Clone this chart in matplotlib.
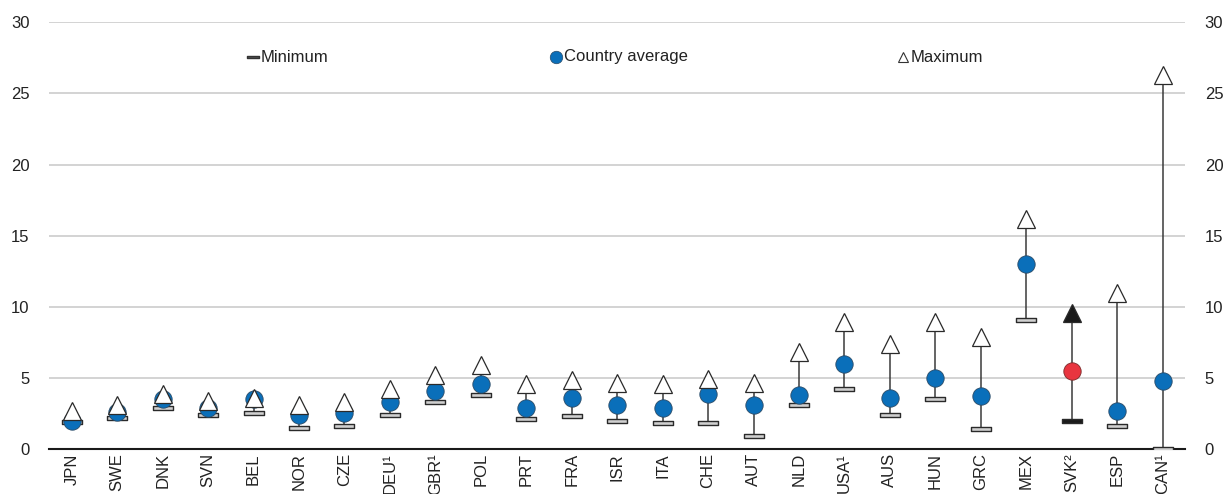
import matplotlib
matplotlib.use("Agg")
import matplotlib.pyplot as plt
from matplotlib.path import Path

plt.rcParams['font.family'] = ['Liberation Sans Narrow', 'Liberation Sans', 'DejaVu Sans']

paises = ['JPN', 'SWE', 'DNK', 'SVN', 'BEL', 'NOR', 'CZE', 'DEU¹', 'GBR¹', 'POL',
          'PRT', 'FRA', 'ISR', 'ITA', 'CHE', 'AUT', 'NLD', 'USA¹', 'AUS', 'HUN',
          'GRC', 'MEX', 'SVK²', 'ESP', 'CAN¹']
minimo = [1.9, 2.2, 2.9, 2.4, 2.5, 1.5, 1.6, 2.4, 3.3, 3.8,
          2.1, 2.3, 2.0, 1.8, 1.8, 0.9, 3.1, 4.2, 2.4, 3.5,
          1.4, 9.1, 2.0, 1.6, 0.0]
media = [2.0, 2.6, 3.5, 2.9, 3.5, 2.4, 2.5, 3.3, 4.1, 4.6,
         2.9, 3.6, 3.1, 2.9, 3.9, 3.1, 3.8, 6.0, 3.6, 5.0,
         3.7, 13.0, 5.5, 2.7, 4.8]
maximo = [2.7, 3.1, 3.9, 3.4, 3.6, 3.1, 3.3, 4.2, 5.2, 5.9,
          4.6, 4.85, 4.65, 4.6, 4.95, 4.65, 6.8, 8.9, 7.4, 8.9,
          7.9, 16.2, 9.55, 11.0, 26.3]
destaque = 'SVK²'

azul = '#0a6fba'
vermelho = '#e8353f'
barra = Path([(-1, -0.24), (1, -0.24), (1, 0.24), (-1, 0.24), (-1, -0.24)],
             [Path.MOVETO, Path.LINETO, Path.LINETO, Path.LINETO, Path.CLOSEPOLY])

fig = plt.figure(figsize=(12.27, 4.94), dpi=100)
ax = fig.add_axes([0.040, 0.091, 0.926, 0.864])

x = list(range(len(paises)))
for i, p in enumerate(paises):
    esp = p == destaque
    ax.plot([i, i], [minimo[i], maximo[i]], color='#3a3a3a', lw=1.1, zorder=2)
    ax.plot(i, minimo[i], marker=barra, ms=14, mfc='#1a1a1a' if esp else '#d0d0d0',
            mec='#2a2a2a', mew=1.0, ls='none', zorder=3)
    ax.plot(i, media[i], marker='o', ms=12.5, mfc=vermelho if esp else azul,
            mec='#2a4a66' if not esp else '#7a2a2a', mew=0.6, ls='none', zorder=4)
    ax.plot(i, maximo[i], marker='^', ms=12.5, mfc='#1a1a1a' if esp else 'white',
            mec='#2a2a2a', mew=0.9, ls='none', zorder=5)

ax.set_xlim(-0.5, len(paises) - 0.5)
ax.set_ylim(0, 30)
ax.set_yticks(range(0, 31, 5))
ax.set_xticks(x)
ax.set_xticklabels(paises, rotation=90, fontsize=12)
ax.tick_params(axis='both', length=0, labelsize=12, colors='#222222')
ax.tick_params(axis='x', pad=3)
ax.tick_params(axis='y', pad=14, labelright=True)
ax.yaxis.grid(True, color='#d0d0d0', lw=1.3)
ax.set_axisbelow(True)
for s in ['top', 'left', 'right']:
    ax.spines[s].set_visible(False)
ax.spines['bottom'].set_color('#1a1a1a')
ax.spines['bottom'].set_linewidth(1.5)
ax.spines['bottom'].set_zorder(1)

# legenda manual no topo
ly = 1 - 57 / 494
fig.lines.append(plt.Line2D([253 / 1227], [ly], marker=barra, ms=8, mfc='#555555',
                            mec='#333333', ls='none', transform=fig.transFigure))
fig.lines.append(plt.Line2D([556 / 1227], [ly], marker='o', ms=9, mfc=azul,
                            mec='#2a4a66', mew=0.5, ls='none', transform=fig.transFigure))
fig.lines.append(plt.Line2D([903 / 1227], [ly], marker='^', ms=7, mfc='white',
                            mec='#333333', mew=0.8, ls='none', transform=fig.transFigure))
for xp, txt in [(261, 'Minimum'), (564, 'Country average'), (911, 'Maximum')]:
    fig.text(xp / 1227, ly, txt, fontsize=12, va='center', ha='left', color='#222222')

fig.savefig('out.png', dpi=100)
